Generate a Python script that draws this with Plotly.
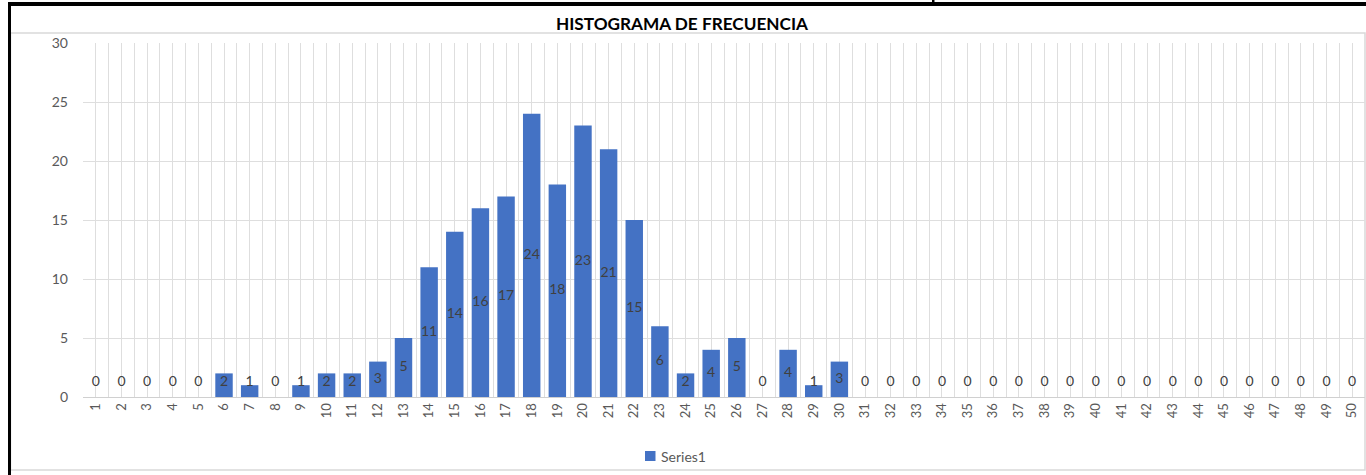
import plotly.graph_objects as go

# Frequency per class (1..50)
clases = list(range(1, 51))
frecuencias = [
    0, 0, 0, 0, 0, 2, 1, 0, 1, 2,
    2, 3, 5, 11, 14, 16, 17, 24, 18, 23,
    21, 15, 6, 2, 4, 5, 0, 4, 1, 3,
    0, 0, 0, 0, 0, 0, 0, 0, 0, 0,
    0, 0, 0, 0, 0, 0, 0, 0, 0, 0,
]
etiquetas_x = [str(c) for c in clases]
marcas_y = [0, 5, 10, 15, 20, 25, 30]
serie = "Series1"

W, H = 1366, 475
ML, MR, MT, MB = 83, 1, 43, 78
PW, PH = W - ML - MR, H - MT - MB

FONT = "Lato"
BLUE = "#4472C4"
GRID = "#dedede"


def px_x(p):
    return (p - ML) / PW


def px_y(p):
    return (H - MB - p) / PH


fig = go.Figure()

fig.add_trace(go.Bar(
    x=clases, y=frecuencias, name=serie,
    marker=dict(color=BLUE, line=dict(width=0)),
    hoverinfo="skip", showlegend=False,
))

# value labels centred in each bar, kept clear of the axis for short bars
ymin_label = 1.2
fig.add_trace(go.Scatter(
    x=clases,
    y=[max(v / 2, ymin_label) for v in frecuencias],
    text=[str(v) for v in frecuencias],
    mode="text",
    textposition="middle center",
    textfont=dict(family=FONT, size=14, color="#404040"),
    cliponaxis=False,
    showlegend=False, hoverinfo="skip",
))

shapes = [
    # outer frame of the chart area
    dict(type="rect", xref="paper", yref="paper",
         x0=px_x(10.5), x1=px_x(1365), y0=px_y(470), y1=px_y(33),
         line=dict(color="#d9d9d9", width=1.5), fillcolor="rgba(0,0,0,0)",
         layer="below"),
    # black sheet borders
    dict(type="rect", xref="paper", yref="paper",
         x0=px_x(8), x1=px_x(1366), y0=px_y(6), y1=px_y(2),
         line=dict(width=0), fillcolor="black"),
    dict(type="rect", xref="paper", yref="paper",
         x0=px_x(8), x1=px_x(11), y0=px_y(475), y1=px_y(2),
         line=dict(width=0), fillcolor="black"),
    dict(type="rect", xref="paper", yref="paper",
         x0=px_x(932), x1=px_x(934.5), y0=px_y(3), y1=px_y(0),
         line=dict(width=0), fillcolor="black"),
    # legend key
    dict(type="rect", xref="paper", yref="paper",
         x0=px_x(645), x1=px_x(655.5), y0=px_y(461), y1=px_y(451),
         line=dict(width=0), fillcolor=BLUE),
]

annotations = [
    dict(text=serie, xref="paper", yref="paper",
         x=px_x(659), y=px_y(456), xanchor="left", yanchor="middle",
         showarrow=False,
         font=dict(family=FONT, size=14, color="#595959")),
]

fig.update_layout(
    width=W, height=H,
    margin=dict(l=ML, r=MR, t=MT, b=MB, pad=0),
    paper_bgcolor="white", plot_bgcolor="white",
    bargap=0.32,
    font=dict(family=FONT, size=14, color="#595959"),
    title=dict(
        text="<b>HISTOGRAMA DE FRECUENCIA</b>",
        x=682 / W, xref="container", xanchor="center",
        y=1 - 24 / H, yref="container", yanchor="middle",
        font=dict(family=FONT, size=17.2, color="black"),
    ),
    xaxis=dict(
        range=[0.5, 50.5],
        tickmode="array", tickvals=clases, ticktext=etiquetas_x,
        tickangle=-90, ticks="",
        tickfont=dict(family=FONT, size=13, color="#595959"),
        showgrid=True, gridcolor=GRID, gridwidth=1,
        minor=dict(tickmode="linear", tick0=0.5, dtick=1,
                   showgrid=True, gridcolor=GRID, gridwidth=1),
        showline=True, linecolor="#d0d0d0", linewidth=1,
        zeroline=False, fixedrange=True,
    ),
    yaxis=dict(
        range=[0, 30], tickmode="array", tickvals=marcas_y,
        ticks="", ticklabelstandoff=14,
        tickfont=dict(family=FONT, size=14, color="#595959"),
        showgrid=True, gridcolor=GRID, gridwidth=1,
        zeroline=False, showline=False, fixedrange=True,
    ),
    showlegend=False,
    shapes=shapes,
    annotations=annotations,
)

fig.write_html("out.html")
